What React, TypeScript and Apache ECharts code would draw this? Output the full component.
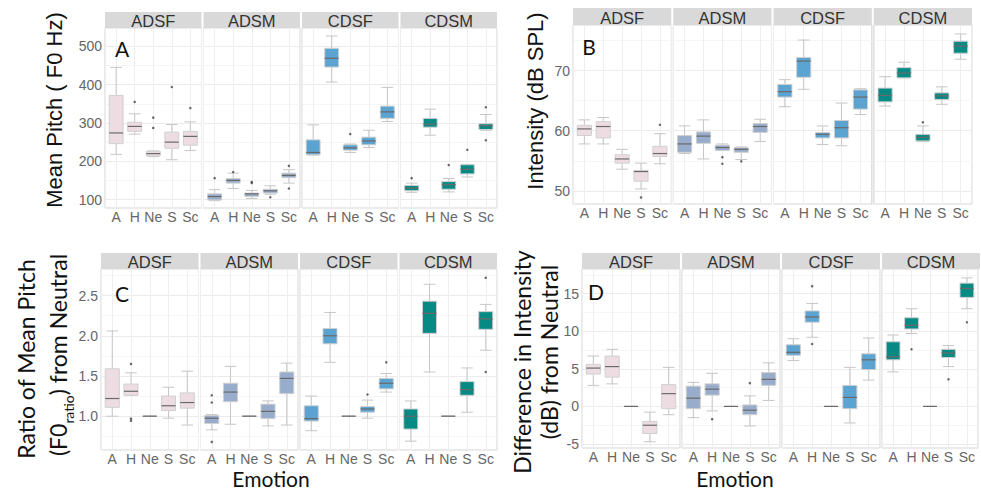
import React, { useEffect, useRef } from 'react';
import * as echarts from 'echarts';

// ---------------- DATA ----------------
const emotions = ['A', 'H', 'Ne', 'S', 'Sc'];
const groups = ['ADSF', 'ADSM', 'CDSF', 'CDSM'];
const groupColors = ['#EDDDE3', '#98ACCC', '#5BA3D1', '#088A84'];

// each box: [min, Q1, median, Q3, max], ordered A, H, Ne, S, Sc
const pitchBoxes = [
  [[218, 246, 274, 372, 445], [271, 278, 291, 302, 324], [212, 214, 220, 226, 227], [204, 234, 250, 276, 296], [228, 242, 265, 278, 303]],
  [[97, 99, 108, 115, 126], [129, 143, 150, 155, 169], [103, 108, 115, 117, 124], [114, 117, 123, 127, 136], [143, 157, 163, 169, 178]],
  [[216, 217, 223, 256, 295], [407, 446, 469, 495, 527], [223, 229, 235, 243, 245], [236, 243, 253, 263, 281], [304, 312, 329, 344, 393]],
  [[119, 123, 130, 137, 143], [268, 289, 297, 312, 336], [120, 127, 139, 147, 155], [159, 167, 179, 191, 192], [281, 283, 293, 298, 322]],
];
const pitchOutliers = [
  [['H', 355], ['Ne', 314], ['Ne', 287], ['S', 394], ['Sc', 339]],
  [['A', 156], ['H', 172], ['Ne', 146], ['Ne', 143], ['S', 106], ['Sc', 188], ['Sc', 129]],
  [['Ne', 271]],
  [['A', 156], ['Ne', 190], ['S', 230], ['Sc', 341], ['Sc', 255]],
];

const intensityBoxes = [
  [[57.8, 59.2, 60.3, 60.9, 61.8], [57.8, 58.8, 60.7, 61.5, 62.2], [53.6, 54.6, 55.3, 56.0, 56.9], [50.3, 51.6, 53.2, 53.4, 54.6], [54.5, 55.7, 56.2, 57.4, 59.5]],
  [[56.2, 56.4, 57.8, 59.2, 60.8], [55.3, 57.9, 59.1, 59.8, 61.8], [56.7, 56.7, 57.2, 57.6, 57.8], [55.2, 56.4, 56.9, 57.2, 57.3], [58.2, 59.7, 60.7, 61.2, 61.9]],
  [[64.0, 65.6, 66.5, 67.7, 68.5], [66.9, 68.9, 71.6, 72.2, 75.1], [57.7, 58.8, 59.4, 59.7, 60.8], [57.5, 58.8, 60.5, 61.7, 64.6], [62.7, 63.6, 65.6, 66.8, 67.0]],
  [[64.1, 64.8, 65.9, 67.1, 69.0], [68.8, 68.8, 69.6, 70.5, 71.4], [58.2, 58.3, 58.9, 59.4, 60.8], [64.4, 65.2, 65.8, 66.3, 67.3], [71.9, 72.9, 74.1, 74.9, 76.1]],
];
const intensityOutliers = [
  [['S', 48.9], ['Sc', 61.0]],
  [['Ne', 55.6], ['Ne', 54.5], ['S', 54.9]],
  [],
  [['Ne', 61.4]],
];

const ratioBoxes = [
  [[1.0, 1.11, 1.22, 1.59, 2.06], [1.26, 1.26, 1.31, 1.40, 1.54], [1, 1, 1, 1, 1], [0.975, 1.07, 1.13, 1.25, 1.36], [0.89, 1.10, 1.17, 1.29, 1.56]],
  [[0.83, 0.91, 0.975, 1.01, 1.02], [0.90, 1.18, 1.30, 1.41, 1.62], [1, 1, 1, 1, 1], [0.88, 0.97, 1.06, 1.15, 1.19], [0.89, 1.28, 1.47, 1.55, 1.66]],
  [[0.82, 0.94, 0.97, 1.13, 1.25], [1.67, 1.90, 2.00, 2.09, 2.29], [1, 1, 1, 1, 1], [0.975, 1.05, 1.09, 1.12, 1.20], [1.30, 1.34, 1.41, 1.47, 1.53]],
  [[0.69, 0.84, 1.0, 1.09, 1.19], [1.55, 2.03, 2.28, 2.43, 2.64], [1, 1, 1, 1, 1], [1.05, 1.26, 1.33, 1.43, 1.60], [1.82, 2.08, 2.21, 2.30, 2.39]],
];
const ratioOutliers = [
  [['H', 1.65], ['H', 0.97], ['H', 0.945]],
  [['A', 1.26], ['A', 1.17], ['A', 0.68]],
  [['S', 1.27], ['Sc', 1.67]],
  [['Sc', 2.72], ['Sc', 1.55]],
];

const diffBoxes = [
  [[2.8, 4.3, 5.1, 5.6, 6.7], [3.0, 3.9, 5.3, 6.7, 7.6], [0, 0, 0, 0, 0], [-4.7, -3.6, -2.5, -2.0, -0.76], [-1.1, -0.3, 1.7, 2.9, 5.2]],
  [[-1.5, -0.3, 1.1, 2.7, 3.2], [-0.6, 1.5, 2.3, 3.0, 4.4], [0, 0, 0, 0, 0], [-2.6, -1.1, -0.5, 0.2, 1.4], [0.8, 2.8, 3.6, 4.5, 5.8]],
  [[6.1, 6.8, 7.2, 8.2, 9.0], [9.2, 11.2, 11.9, 12.7, 13.7], [0, 0, 0, 0, 0], [-2.2, -0.3, 1.2, 2.8, 5.2], [3.5, 4.9, 6.2, 7.0, 9.1]],
  [[4.6, 6.2, 6.6, 8.6, 9.5], [9.7, 10.3, 10.8, 11.8, 13.0], [0, 0, 0, 0, 0], [5.3, 6.5, 7.1, 7.6, 8.1], [13.0, 14.5, 15.7, 16.4, 17.1]],
];
const diffOutliers = [
  [],
  [['H', -1.7], ['S', 3.1]],
  [['H', 16.0], ['H', 8.3]],
  [['H', 7.6], ['S', 3.6], ['Sc', 11.2]],
];

const panelLetters = ['A', 'B', 'C', 'D'];
const yRanges = [[78, 548], [47.8, 77.6], [0.58, 2.83], [-5.53, 18.28]];
const yTickSteps = [100, 10, 0.5, 5];
const yTickDecimals = [0, 0, 1, 0];
const ySplitNumbers = [5, 3, 5, 5];

// ---------------- LAYOUT / STYLE ----------------
const layout = [
  { left: 105, right: 497, top: 28, bottom: 208, stripTop: 12, letterX: 122, letterY: 48 },
  { left: 573, right: 972, top: 25, bottom: 204, stripTop: 8, letterX: 589, letterY: 46 },
  { left: 101, right: 497, top: 269, bottom: 450, stripTop: 253, letterX: 122, letterY: 293 },
  { left: 582, right: 980, top: 269, bottom: 448, stripTop: 253, letterX: 596, letterY: 291 },
];
const GAP = 2;
const AXIS_FONT = '"Liberation Sans", Arial, sans-serif';
const TITLE_FONT = 'Lato, "Open Sans", sans-serif';

const boxSets = [pitchBoxes, intensityBoxes, ratioBoxes, diffBoxes];
const outlierSets = [pitchOutliers, intensityOutliers, ratioOutliers, diffOutliers];

function buildOption() {
  const grid: any[] = [];
  const xAxis: any[] = [];
  const yAxis: any[] = [];
  const series: any[] = [];
  const graphic: any[] = [];

  layout.forEach((L, p) => {
    const fw = (L.right - L.left - 3 * GAP) / 4;
    const step = yTickSteps[p];
    const dec = yTickDecimals[p];
    groups.forEach((g, gi) => {
      const idx = grid.length;
      const left = L.left + gi * (fw + GAP);
      grid.push({
        left, top: L.top, width: fw, height: L.bottom - L.top,
        show: true, borderColor: '#D4D4D4', borderWidth: 1, backgroundColor: '#FFFFFF',
        containLabel: false,
      });
      xAxis.push({
        gridIndex: idx, type: 'value', min: 0.4, max: 5.6, splitNumber: 5,
        axisLine: { show: false }, axisTick: { show: false },
        axisLabel: {
          color: '#666666', fontSize: 14, lineHeight: 14, fontFamily: AXIS_FONT, margin: 2,
          formatter: (v: number) => {
            const r = Math.round(v);
            return Math.abs(v - r) < 1e-6 && r >= 1 && r <= 5 ? emotions[r - 1] : '';
          },
        },
        splitLine: { show: true, lineStyle: { color: '#EEEEEE', width: 1 } },
      });
      yAxis.push({
        gridIndex: idx, type: 'value', min: yRanges[p][0], max: yRanges[p][1], splitNumber: ySplitNumbers[p],
        axisLine: { show: false }, axisTick: { show: false },
        axisLabel: {
          show: gi === 0, color: '#666666', fontSize: 14, fontFamily: AXIS_FONT, margin: 3,
          formatter: (v: number) => {
            const k = v / step;
            return Math.abs(k - Math.round(k)) < 1e-6 ? v.toFixed(dec) : '';
          },
        },
        splitLine: { show: true, lineStyle: { color: '#EBEBEB', width: 1 } },
        minorTick: { show: false, splitNumber: 2 },
        minorSplitLine: { show: true, lineStyle: { color: '#F5F5F5', width: 1 } },
      });
      const color = groupColors[gi];
      series.push({
        type: 'custom', xAxisIndex: idx, yAxisIndex: idx, clip: false,
        data: boxSets[p][gi].map((b, ei) => [ei + 1, ...b]),
        encode: { x: 0, y: [1, 2, 3, 4, 5] },
        renderItem: (params: any, api: any) => {
          const x = api.value(0);
          const ys = [1, 2, 3, 4, 5].map((i) => api.coord([x, api.value(i)])[1]);
          const cx = api.coord([x, api.value(3)])[0];
          const unit = api.size([1, 0])[0];
          const bw = unit * 0.75;
          const cw = unit * 0.62;
          const [yMin, yQ1, yMed, yQ3, yMax] = ys;
          const wStyle = { stroke: '#C6C6C6', lineWidth: 1, fill: null };
          return {
            type: 'group',
            children: [
              { type: 'line', shape: { x1: cx, y1: yMax, x2: cx, y2: yQ3 }, style: wStyle },
              { type: 'line', shape: { x1: cx, y1: yQ1, x2: cx, y2: yMin }, style: wStyle },
              { type: 'line', shape: { x1: cx - cw / 2, y1: yMax, x2: cx + cw / 2, y2: yMax }, style: wStyle },
              { type: 'line', shape: { x1: cx - cw / 2, y1: yMin, x2: cx + cw / 2, y2: yMin }, style: wStyle },
              { type: 'rect', shape: { x: cx - bw / 2, y: yQ3, width: bw, height: yQ1 - yQ3 }, style: { fill: color, stroke: '#D0D0D0', lineWidth: 1 } },
              { type: 'line', shape: { x1: cx - bw / 2, y1: yMed, x2: cx + bw / 2, y2: yMed }, style: { stroke: '#6A6A6A', lineWidth: 1.2 } },
            ],
          };
        },
      });
      series.push({
        type: 'scatter', xAxisIndex: idx, yAxisIndex: idx, symbol: 'circle', symbolSize: 2.5,
        itemStyle: { color: '#444444' },
        data: outlierSets[p][gi].map(([e, v]) => [emotions.indexOf(e as string) + 1, v]),
      });
      // facet strip
      graphic.push({
        type: 'rect', shape: { x: left, y: L.stripTop, width: fw, height: L.top - L.stripTop },
        style: { fill: '#D9D9D9' }, silent: true,
      });
      graphic.push({
        type: 'text', x: left + fw / 2, y: (L.stripTop + L.top) / 2 + 1,
        style: { text: g, fill: '#333333', font: `16.5px ${AXIS_FONT}`, textAlign: 'center', align: 'center', textVerticalAlign: 'middle', verticalAlign: 'middle' },
        silent: true,
      });
    });
    graphic.push({
      type: 'text', x: L.letterX, y: L.letterY, z: 100,
      style: { text: panelLetters[p], fill: '#111111', font: `21px ${TITLE_FONT}`, textAlign: 'center', align: 'center', textVerticalAlign: 'middle', verticalAlign: 'middle' },
      silent: true,
    });
  });

  const vText = (text: string, x: number, y: number, font: string) => ({
    type: 'text', x, y, rotation: Math.PI / 2, silent: true,
    style: { text, fill: '#111111', font, textAlign: 'center', align: 'center', textVerticalAlign: 'middle', verticalAlign: 'middle' },
  });
  graphic.push(vText('Mean Pitch ( F0 Hz)', 54, 110, `22px ${AXIS_FONT}`));
  graphic.push(vText('Intensity (dB SPL)', 535, 101, `22px ${AXIS_FONT}`));
  graphic.push(vText('Ratio of Mean Pitch', 26, 359, `23px ${TITLE_FONT}`));
  graphic.push({
    type: 'text', x: 58, y: 355, rotation: Math.PI / 2, silent: true,
    style: {
      text: '{m|(F0}{s|ratio}{m|) from Neutral}', fill: '#111111', align: 'center', textAlign: 'center', verticalAlign: 'middle', textVerticalAlign: 'middle',
      rich: {
        m: { fontSize: 23, fontFamily: TITLE_FONT, fill: '#111111', color: '#111111', lineHeight: 26, verticalAlign: 'middle' },
        s: { fontSize: 14, fontFamily: TITLE_FONT, fill: '#111111', color: '#111111', lineHeight: 14, verticalAlign: 'bottom', padding: [0, 0, -4, 0] },
      },
    },
  });
  graphic.push(vText('Difference in Intensity', 522, 362, `23px ${TITLE_FONT}`));
  graphic.push(vText('(dB) from Neutral', 549, 352, `23px ${TITLE_FONT}`));
  const emotionStyle = { text: 'Emotion', fill: '#111111', fontSize: 21, fontFamily: TITLE_FONT, lineHeight: 22, textAlign: 'center', align: 'center', textVerticalAlign: 'middle', verticalAlign: 'middle' };
  graphic.push({ type: 'text', x: 271, y: 478, silent: true, style: { ...emotionStyle } });
  graphic.push({ type: 'text', x: 735, y: 478, silent: true, style: { ...emotionStyle } });

  return {
    animation: false,
    backgroundColor: '#FFFFFF',
    grid, xAxis, yAxis, series, graphic,
  };
}

export default function App() {
  const ref = useRef<HTMLDivElement>(null);
  useEffect(() => {
    if (!ref.current) return;
    const chart = echarts.init(ref.current, undefined, { renderer: 'svg' });
    chart.setOption(buildOption() as any);
    return () => chart.dispose();
  }, []);
  return <div ref={ref} style={{ position: 'fixed', left: 0, top: 0, width: 981, height: 491 }} />;
}
